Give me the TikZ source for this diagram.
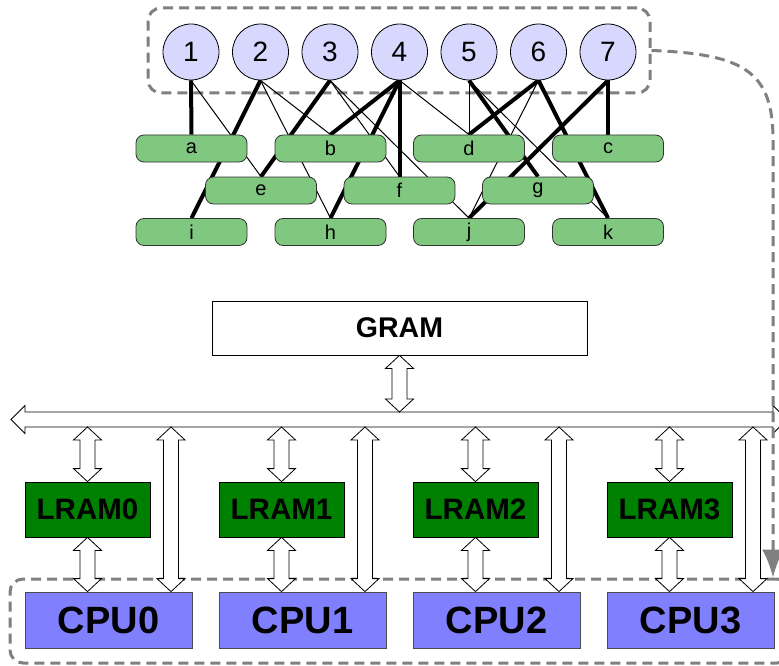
\documentclass[tikz,border=0pt]{standalone}
\usepackage{fontspec}
\setmainfont{Liberation Sans}
\usetikzlibrary{arrows.meta,calc}
\pgfdeclarelayer{back}
\pgfdeclarelayer{edges}
\pgfsetlayers{back,edges,main}

\definecolor{circfill}{RGB}{216,216,255}
\definecolor{boxgreen}{RGB}{128,200,128}
\definecolor{lramgreen}{RGB}{0,128,0}
\definecolor{cpublue}{RGB}{128,128,255}
\definecolor{dashgray}{RGB}{128,128,128}

\tikzset{
 vert/.style={circle, draw=black, line width=0.8pt, fill=circfill, minimum size=56pt, inner sep=0pt, font=\fontsize{28}{28}\selectfont},
 task/.style={rectangle, rounded corners=8pt, draw=black!80, line width=0.8pt, fill=boxgreen, minimum width=111pt, minimum height=27pt, inner sep=0pt, font=\fontsize{20}{20}\selectfont},
 heavy/.style={line width=4pt},
 light/.style={line width=1pt},
 grambox/.style={rectangle, draw=black, line width=0.8pt, fill=white, minimum width=375pt, minimum height=54pt, inner sep=0pt, font=\bfseries\fontsize{28.5}{28.5}\selectfont},
 lrambox/.style={rectangle, draw=black, line width=0.8pt, fill=lramgreen, minimum width=125pt, minimum height=55pt, inner sep=0pt, font=\bfseries\fontsize{29.5}{29.5}\selectfont},
 cpubox/.style={rectangle, draw=black!70, line width=0.8pt, fill=cpublue, minimum width=167pt, minimum height=56pt, inner sep=0pt, font=\bfseries\fontsize{38}{38}\selectfont},
 groupbox/.style={rectangle, rounded corners=13pt, draw=dashgray, line width=3pt, dash pattern=on 10pt off 6pt, inner sep=0pt},
 bigarrow/.style={draw=black, line width=0.8pt, fill=white},
 flowline/.style={draw=dashgray, line width=3pt, dash pattern=on 10pt off 6pt, -{Latex[length=28pt,width=22pt]}},
}

\newcommand\vbiarrow[2]{%
 \path[bigarrow] let \p1=#1, \p2=#2 in
   (\x1,\y1) -- (\x1+14pt,\y1-13pt) -- (\x1+7.5pt,\y1-13pt) -- (\x1+7.5pt,\y2+13pt)
   -- (\x1+14pt,\y2+13pt) -- (\x1,\y2) -- (\x1-14pt,\y2+13pt) -- (\x1-7.5pt,\y2+13pt)
   -- (\x1-7.5pt,\y1-13pt) -- (\x1-14pt,\y1-13pt) -- cycle;}

\begin{document}
\begin{tikzpicture}[x=1pt,y=-1pt]
\useasboundingbox (0,0) rectangle (779,666);

% task graph
\node[vert] (n1) at (191,52) {1};
\node[vert] (n2) at (260.5,52) {2};
\node[vert] (n3) at (330,52) {3};
\node[vert] (n4) at (399.5,52) {4};
\node[vert] (n5) at (469,52) {5};
\node[vert] (n6) at (538.5,52) {6};
\node[vert] (n7) at (608,52) {7};

\node[task] (a) at (191.5,148.5) {a};
\node[task] (b) at (330.5,148.5) {b};
\node[task] (d) at (469,148.5) {d};
\node[task] (c) at (608,148.5) {c};
\node[task] (e) at (261,190.5) {e};
\node[task] (f) at (399.5,190.5) {f};
\node[task] (g) at (538,190.5) {g};
\node[task] (i) at (191.5,232) {i};
\node[task] (h) at (330.5,232) {h};
\node[task] (j) at (469,232) {j};
\node[task] (k) at (608,232) {k};

\begin{pgfonlayer}{back}
\node[groupbox, minimum width=502pt, minimum height=85pt] (topgrp) at (399,50.5) {};
\node[groupbox, minimum width=780pt, minimum height=84pt] (cpugrp) at (400,621) {};
\end{pgfonlayer}

\begin{pgfonlayer}{edges}
\draw[heavy] (n1.south) -- (a.north);
\draw[heavy] (n2.south) -- (i.north);
\draw[heavy] (n3.south) -- (e.north);
\draw[heavy] (n4.south) -- (b.north);
\draw[heavy] (n4.south) -- (h.north);
\draw[heavy] (n4.south) -- (f.north);
\draw[heavy] (n5.south) -- (g.north);
\draw[heavy] (n6.south) -- (d.north);
\draw[heavy] (n6.south) -- (k.north);
\draw[heavy] (n7.south) -- (c.north);
\draw[heavy] (n7.south) -- (j.north);
\draw[light] (n1.south) -- (e.north);
\draw[light] (n2.south) -- (h.north);
\draw[light] (n2.south) -- (b.north);
\draw[light] (n3.south) -- (f.north);
\draw[light] (n3.south) -- (j.north);
\draw[light] (n4.south) -- (d.north);
\draw[light] (n5.south) -- (d.north);
\draw[light] (n5.south) -- (k.north);
\draw[light] (n6.south) -- (j.north);
\end{pgfonlayer}

% memory system
\node[grambox] (gram) at (399.5,328) {GRAM};

\coordinate (busL) at (11,419.5);
\coordinate (busR) at (787,419.5);
\coordinate (busN) at (0,412);
\coordinate (busS) at (0,427);
\path[bigarrow] let \p1=(busL), \p2=(busR) in
  (\x1,\y1) -- (\x1+14pt,\y1+14pt) -- (\x1+14pt,\y1+7.5pt) -- (\x2-14pt,\y1+7.5pt)
  -- (\x2-14pt,\y1+14pt) -- (\x2,\y2) -- (\x2-14pt,\y1-14pt) -- (\x2-14pt,\y1-7.5pt)
  -- (\x1+14pt,\y1-7.5pt) -- (\x1+14pt,\y1-14pt) -- cycle;

\vbiarrow{(gram.south)}{(gram.south |- busN)}

\foreach \q/\xl/\xc in {0/87.5/108.5, 1/281.5/302.5, 2/475.5/496.5, 3/669.5/690.5}{
  \node[lrambox] (lram\q) at (\xl,509.5) {LRAM\q};
  \node[cpubox] (cpu\q) at (\xc,620) {CPU\q};
  \coordinate (long\q) at ($(cpu\q.north)+(62.5,0)$);
  \coordinate (lt\q) at (lram\q.north |- busS);
  \coordinate (lb\q) at (lram\q.south |- cpu\q.north);
  \coordinate (lu\q) at (long\q |- busS);
  \vbiarrow{(lt\q)}{(lram\q.north)}
  \vbiarrow{(lram\q.south)}{(lb\q)}
  \vbiarrow{(lu\q)}{(long\q)}
}

\coordinate (drop) at (773,0);
\draw[flowline] (topgrp.east) .. controls (745,54) and (773,72) .. (773,140) -- (drop |- cpugrp.north);
\end{tikzpicture}
\end{document}
